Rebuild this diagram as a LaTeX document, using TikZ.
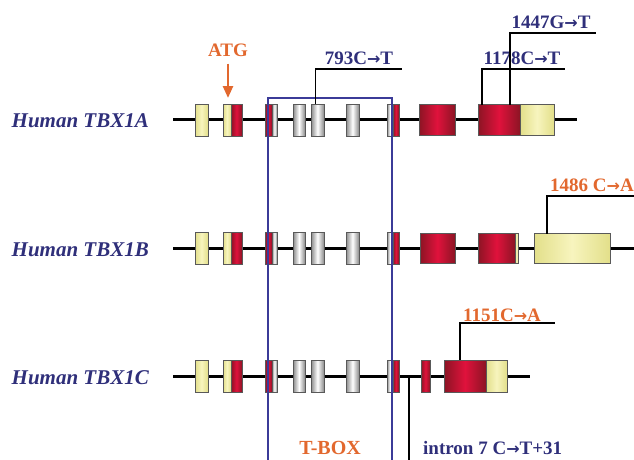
\documentclass[tikz,border=0pt]{standalone}
\usepackage{fontspec}
\setmainfont{Liberation Serif}
\newfontfamily\arrowfont{DejaVu Sans}
\usetikzlibrary{positioning, arrows.meta}

\definecolor{navy}{HTML}{2F2F7A}
\definecolor{tborange}{HTML}{E2682E}
\definecolor{boxblue}{HTML}{3B3B98}
\definecolor{exred}{HTML}{E0123C}
\definecolor{exdark}{HTML}{8C1424}
\definecolor{exyellow}{HTML}{F4F0A2}
\definecolor{exgrey}{HTML}{8A8A8A}

\newcommand{\mto}{{\arrowfont\fontsize{16}{18}\selectfont\bfseries →}}

\begin{document}
\begin{tikzpicture}[
    x=1pt, y=-1pt,
    exon/.style={draw=black!65, line width=0.8pt, minimum height=32, inner sep=0pt, outer sep=0pt},
    redex/.style={exon, left color=exdark, right color=exdark, middle color=exred},
    yelex/.style={exon, left color=exyellow!85!olive, right color=exyellow!85!olive, middle color=exyellow!70!white},
    greyex/.style={exon, left color=exgrey, right color=exgrey, middle color=white},
    gene/.style={line width=3pt},
    leader/.style={line width=1.5pt},
    tbox/.style={draw=boxblue, line width=1.8pt},
    genename/.style={font=\fontsize{21}{24}\selectfont\bfseries\itshape, text=navy, anchor=east, inner sep=0pt},
    mut/.style={font=\fontsize{19}{21}\selectfont\bfseries, inner sep=0pt}
]
    \useasboundingbox (0,0) rectangle (634,460);

    % Gene lines ===========================
    \coordinate (Astart) at (173,119);
    \coordinate (Aend) at (577,119);
    \coordinate (Bstart) at (173,248);
    \coordinate (Bend) at (640,248);
    \coordinate (Cstart) at (173,376);
    \coordinate (Cend) at (530,376);
    \draw[gene] (Astart) -- (Aend);
    \draw[gene] (Bstart) -- (Bend);
    \draw[gene] (Cstart) -- (Cend);

    % Human TBX1A ===========================
    \node[genename] (nameA) at (149,121) {Human TBX1A};
    \node[yelex, minimum width=13] (A1) at (201.5,120) {};
    \node[yelex, minimum width=8] (A2y) at (227,120) {};
    \node[redex, minimum width=11] (A2r) at (236.5,120) {};
    \node[redex, minimum width=7] (A3r) at (268.5,120) {};
    \node[greyex, minimum width=5] (A3g) at (274.5,120) {};
    \node[greyex, minimum width=12] (A4) at (299,120) {};
    \node[greyex, minimum width=13] (A5) at (317.5,120) {};
    \node[greyex, minimum width=13] (A6) at (352.5,120) {};
    \node[greyex, minimum width=6] (A7g) at (390,120) {};
    \node[redex, minimum width=6] (A7r) at (396,120) {};
    \node[redex, minimum width=36, minimum height=31] (A8) at (437,120) {};
    \node[redex, minimum width=42, minimum height=31] (A9r) at (499,120) {};
    \node[yelex, minimum width=34, minimum height=31] (A9y) at (537,120) {};

    % Human TBX1B ===========================
    \node[genename] (nameB) at (149,250) {Human TBX1B};
    \node[yelex, minimum width=13] (B1) at (201.5,248.5) {};
    \node[yelex, minimum width=8] (B2y) at (227,248.5) {};
    \node[redex, minimum width=11] (B2r) at (236.5,248.5) {};
    \node[redex, minimum width=7] (B3r) at (268.5,248.5) {};
    \node[greyex, minimum width=5] (B3g) at (274.5,248.5) {};
    \node[greyex, minimum width=12] (B4) at (299,248.5) {};
    \node[greyex, minimum width=13] (B5) at (317.5,248.5) {};
    \node[greyex, minimum width=13] (B6) at (352.5,248.5) {};
    \node[greyex, minimum width=6] (B7g) at (390,248.5) {};
    \node[redex, minimum width=6] (B7r) at (396,248.5) {};
    \node[redex, minimum width=35, minimum height=30] (B8) at (437.5,248.5) {};
    \node[redex, minimum width=37, minimum height=30] (B9r) at (496.5,248.5) {};
    \node[yelex, minimum width=3, minimum height=30] (B9y) at (516.5,248.5) {};
    \node[yelex, minimum width=76, minimum height=30] (B10) at (572,248.5) {};

    % Human TBX1C ===========================
    \node[genename] (nameC) at (149,378) {Human TBX1C};
    \node[yelex, minimum width=13] (C1) at (201.5,376) {};
    \node[yelex, minimum width=8] (C2y) at (227,376) {};
    \node[redex, minimum width=11] (C2r) at (236.5,376) {};
    \node[redex, minimum width=7] (C3r) at (268.5,376) {};
    \node[greyex, minimum width=5] (C3g) at (274.5,376) {};
    \node[greyex, minimum width=12] (C4) at (299,376) {};
    \node[greyex, minimum width=13] (C5) at (317.5,376) {};
    \node[greyex, minimum width=13] (C6) at (352.5,376) {};
    \node[greyex, minimum width=6] (C7g) at (390,376) {};
    \node[redex, minimum width=6] (C7r) at (396,376) {};
    \node[redex, minimum width=9] (C8) at (425.5,376) {};
    \node[redex, minimum width=42] (C9r) at (465,376) {};
    \node[yelex, minimum width=21] (C9y) at (496.5,376) {};

    % T-BOX frame ====================
    \coordinate (tboxL) at (268,462);
    \coordinate (tboxR) at (392,462);
    \draw[tbox] (tboxL) -- ++(0,-364) -| (tboxR);
    \node[mut, text=tborange, font=\fontsize{20}{22}\selectfont\bfseries] (tboxlabel) at (330,448) {T-BOX};

    % Start codon ====================
    \node[mut, text=tborange] (atg) at (228,50) {ATG};
    \draw[draw=tborange, line width=2.5pt, -{Triangle[length=12pt, width=10pt]}, shorten <=7pt, shorten >=6pt]
        (atg.south) -- (atg.south |- A2y.north);

    % Mutations ====================
    \coordinate (m793end) at (402,69);
    \draw[leader] ([xshift=-2]A5.north) |- (m793end);
    \node[mut, text=navy] (m793) at (359,58) {793C\mto T};

    \coordinate (m1178end) at (565,69);
    \draw[leader] ([xshift=4]A9r.north west) |- (m1178end);
    \node[mut, text=navy] (m1178) at (522,58) {1178C\mto T};

    \coordinate (m1447end) at (596,33);
    \draw[leader] ([xshift=32]A9r.north west) |- (m1447end);
    \node[mut, text=navy] (m1447) at (551,22) {1447G\mto T};

    \coordinate (m1486end) at (640,196);
    \draw[leader] ([xshift=13]B10.north west) |- (m1486end);
    \node[mut, text=tborange, anchor=west] (m1486) at (550,185) {1486 C\mto A};

    \coordinate (m1151end) at (555,323);
    \draw[leader] ([xshift=16]C9r.north west) |- (m1151end);
    \node[mut, text=tborange] (m1151) at (502,315) {1151C\mto A};

    \coordinate (intron7) at (409,376);
    \draw[leader] (intron7) -- ++(0,90);
    \node[mut, text=navy, anchor=west] (mintron) at (423,448) {intron 7 C\mto T+31};

\end{tikzpicture}
\end{document}
